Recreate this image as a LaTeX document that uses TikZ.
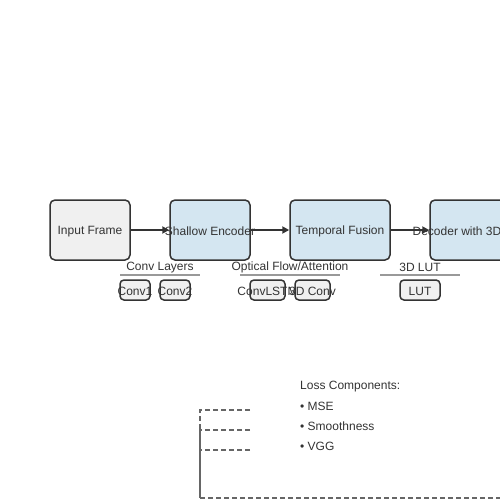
\documentclass[tikz,border=0pt]{standalone}
\usepackage{fontspec}
\setmainfont{Liberation Sans}
\usetikzlibrary{arrows.meta}
\definecolor{ink}{HTML}{333333}
\definecolor{paper}{HTML}{F0F0F0}
\definecolor{stage}{HTML}{D4E6F1}
\definecolor{rulegray}{HTML}{999999}
\definecolor{lossgray}{HTML}{666666}
\begin{document}
\begin{tikzpicture}[x=1pt,y=-1pt,
        every node/.style={font=\fontsize{12}{14}\selectfont, text=ink},
        every label/.style={font=\fontsize{12}{14}\selectfont, text=ink, inner sep=0pt, yshift=-1.5pt},
        block/.style={draw=ink, line width=1.5pt, fill=paper, rounded corners=5pt, minimum width=80pt, minimum height=60pt, inner sep=0pt},
        layer/.style={draw=ink, line width=1.5pt, fill=paper, rounded corners=4pt, minimum width=30pt, minimum height=20pt, inner sep=0pt},
        flow/.style={draw=ink, line width=2pt, -{Triangle[length=7pt,width=7pt]}},
        rule/.style={draw=rulegray, line width=2pt},
        item/.style={anchor=west, inner sep=0pt},
        lossline/.style={draw=lossgray, line width=1.5pt, dash pattern=on 5pt off 3pt}]
        \useasboundingbox (0,0) rectangle (500,500);
        % main stages
        \node[block, label=center:{Input Frame}] (input) at (90,230) {};
        \node[block, fill=stage, label=center:{Shallow Encoder}] (enc) at (210,230) {};
        \node[block, fill=stage, minimum width=100pt, label=center:{Temporal Fusion}] (fusion) at (340,230) {};
        \node[block, fill=stage, label=center:{Decoder with 3D LUT}] (dec) at (470,230) {};
        \draw[flow] (input) -- (enc);
        \draw[flow] (enc) -- (fusion);
        \draw[flow] (fusion) -- (dec);
        % sub layers
        \node (convlbl) at (160,267.5) {Conv Layers};
        \draw[rule] (120,275)--(200,275);
        \node[layer, label=center:{Conv1}] (conv1) at (135,290) {};
        \node[layer, label=center:{Conv2}] (conv2) at (175,290) {};
        \node (flowlbl) at (290,267.5) {Optical Flow/Attention};
        \draw[rule] (240,275)--(340,275);
        \node[layer, minimum width=35pt, label=center:{ConvLSTM}] (lstm) at (267.5,290) {};
        \node[layer, minimum width=35pt, label=center:{3D Conv}] (conv3d) at (312.5,290) {};
        \node (lutlbl) at (420,267.5) {3D LUT};
        \draw[rule] (380,275)--(460,275);
        \node[layer, minimum width=40pt, label=center:{LUT}] (lut) at (420,290) {};
        % losses
        \node[item] (losshead) at (300,386.5) {Loss Components:};
        \node[item] (mse) at (300,406.5) {\textbullet\ MSE};
        \node[item] (smooth) at (300,426.5) {\textbullet\ Smoothness};
        \node[item] (vgg) at (300,446.5) {\textbullet\ VGG};
        \coordinate (msein) at (250,410);
        \coordinate (smoothin) at (250,430);
        \coordinate (vggin) at (250,450);
        \coordinate (corner) at (200,498);
        \coordinate (back) at (520,498);
        \draw[lossline] (msein)--++(-50,0)--(corner);
        \draw[lossline] (smoothin)--++(-50,0)--(corner);
        \draw[lossline] (vggin)--++(-50,0)--(corner);
        \draw[lossline] (corner)--(back);
    \end{tikzpicture}
\end{document}
